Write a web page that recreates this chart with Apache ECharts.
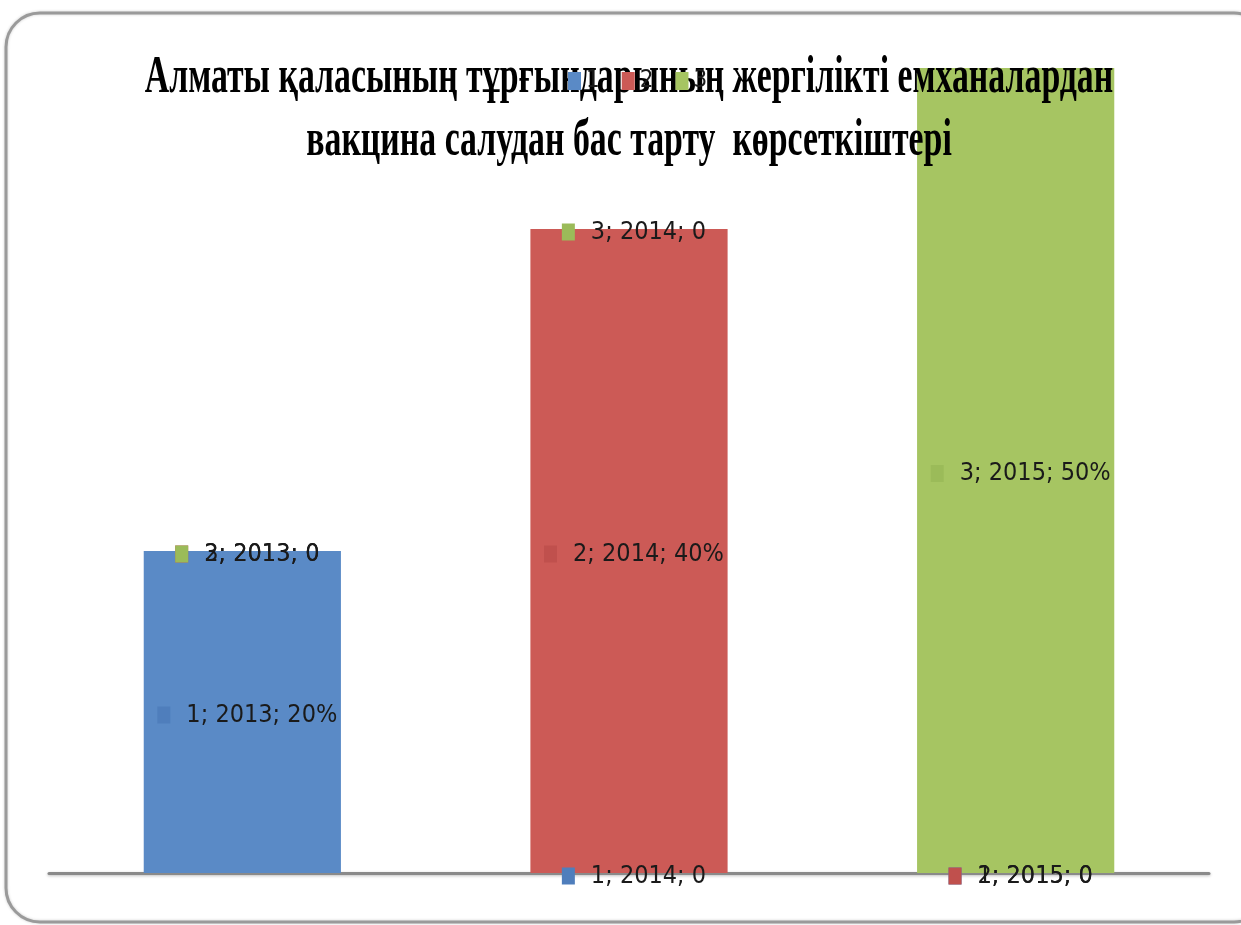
<!DOCTYPE html>
<html>
<head>
<meta charset="utf-8">
<script src="https://cdn.jsdelivr.net/npm/echarts@6/dist/echarts.min.js"></script>
<style>html,body{margin:0;padding:0;background:#fff}#c{width:1241px;height:925px}</style>
</head>
<body>
<div id="c"></div>
<script>
const categories = ['2013', '2014', '2015'];
const seriesNames = ['1', '2', '3'];
const values1 = [20, 0, 0];
const values2 = [0, 40, 0];
const values3 = [0, 0, 50];
const titleLines = ['Алматы қаласының тұрғындарының жергілікті емханалардан', 'вакцина салудан бас тарту  көрсеткіштері'];

const barColors = ['#5A8AC6', '#CC5A56', '#A6C562'];
const markColors = ['#4F7EBC', '#C0504D', '#9BBB59'];
const seriesValues = [values1, values2, values3];
const labelFont = '"Liberation Sans Narrow", "DejaVu Sans Condensed", sans-serif';

const chart = echarts.init(document.getElementById('c'));
const series = seriesNames.map((name, i) => ({
  name: name,
  type: 'bar',
  stack: 'total',
  barWidth: '51%',
  z: 2,
  itemStyle: { color: barColors[i] },
  data: seriesValues[i],
  label: {
    show: true,
    position: 'inside',
    offset: [5, 3],
    formatter: p => '{m|}{s|}{t|' + p.seriesName + '; ' + p.name + '; ' + (p.value === 0 ? '0' : p.value + '%') + '}',
    rich: {
      m: { width: 13, height: 17, backgroundColor: markColors[i] },
      s: { width: 16 },
      t: { fontSize: 25, fontFamily: labelFont, color: '#1a1a1a' }
    }
  }
}));

chart.setOption({
  animation: false,
  backgroundColor: '#fff',
  grid: { left: 49, right: 32, top: 68, bottom: 52, containLabel: false },
  xAxis: {
    type: 'category',
    data: categories,
    axisLine: { lineStyle: { color: '#8a8a8a', width: 3, shadowColor: 'rgba(0,0,0,0.25)', shadowBlur: 3, shadowOffsetY: 1 } },
    axisTick: { show: false },
    axisLabel: { show: false }
  },
  yAxis: { type: 'value', min: 0, max: 50, show: false, splitLine: { show: false } },
  legend: {
    left: 563, top: 64, z: 20,
    itemWidth: 13, itemHeight: 18, itemGap: 22,
    icon: 'rect',
    textStyle: { fontSize: 24, fontFamily: labelFont, color: '#1a1a1a' },
    data: seriesNames
  },
  graphic: [
    {
      type: 'rect', z: 1,
      shape: { x: 6, y: 13, width: 1262, height: 909, r: 34 },
      style: { fill: 'none', stroke: '#9a9a9a', lineWidth: 3, shadowColor: 'rgba(0,0,0,0.2)', shadowBlur: 3 }
    },
    {
      type: 'text', z: 10, x: 629, y: 78, scaleX: 0.676, scaleY: 1.05,
      style: { text: titleLines[0], font: 'bold 50px "Liberation Serif", serif', fill: '#000', textAlign: 'center', textVerticalAlign: 'middle' }
    },
    {
      type: 'text', z: 10, x: 629, y: 141, scaleX: 0.676, scaleY: 1.05,
      style: { text: titleLines[1], font: 'bold 50px "Liberation Serif", serif', fill: '#000', textAlign: 'center', textVerticalAlign: 'middle' }
    }
  ],
  series: series
});
</script>
</body>
</html>
